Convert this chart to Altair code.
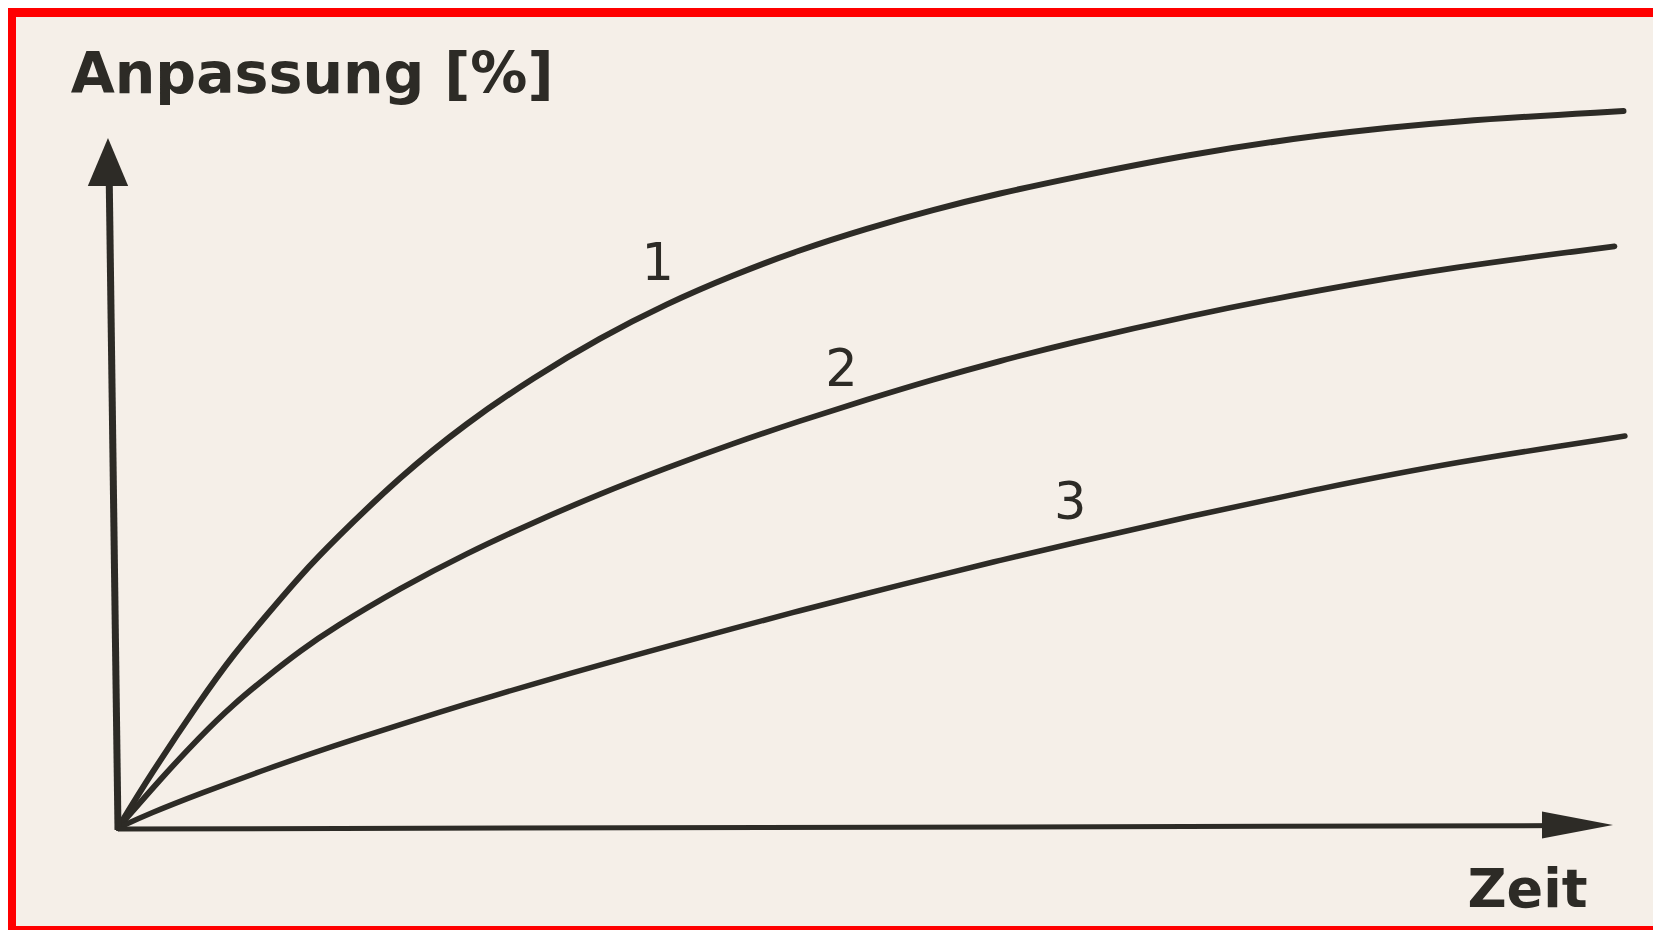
import altair as alt
import pandas as pd

# ---- values (time units 0..100, adaptation in %) ----
t1 = [0, 2.1, 5.5, 7.7, 10.0, 12.2, 14.4, 18.9, 23.3, 27.8, 32.2, 36.7, 41.1, 45.6, 50.1, 54.5,
      59.0, 63.5, 71.5, 80.4, 89.3, 100.7]
p1 = [0, 7.5, 18.5, 25.1, 31.0, 36.6, 41.6, 51.0, 58.7, 65.3, 71.0, 76.0, 80.1, 83.8, 86.9, 89.6,
      92.0, 94.1, 97.6, 100.5, 102.5, 103.9]

t2 = [0, 2.8, 5.5, 7.7, 10.0, 12.2, 14.4, 18.9, 23.3, 27.8, 32.2, 36.7, 41.1, 45.6, 50.1, 54.5,
      59.0, 63.5, 71.5, 80.4, 89.3, 100.1]
p2 = [0, 7.0, 13.3, 17.9, 22.0, 25.7, 29.0, 34.8, 39.8, 44.3, 48.4, 52.2, 55.7, 59.0, 62.1, 65.0,
      67.7, 70.2, 74.2, 78.0, 81.3, 84.3]

t3 = [0, 2.1, 5.5, 10.0, 14.4, 18.9, 23.3, 27.8, 32.2, 36.7, 41.1, 45.6, 50.1, 54.5,
      59.0, 63.5, 71.5, 80.4, 89.3, 100.8]
p3 = [0, 2.1, 5.0, 8.6, 11.9, 15.0, 18.0, 20.9, 23.6, 26.3, 28.9, 31.5, 34.0, 36.4,
      38.8, 41.1, 45.1, 49.2, 53.0, 56.8]

curve_names = ["1", "2", "3"]
label_t = [36.1, 48.4, 63.7]
label_p = [79.4, 64.1, 44.8]

y_title = "Anpassung [%]"
x_title = "Zeit"
axis_end = 100

# ---- tables ----
rows = []
for name, ts, ps in zip(curve_names, [t1, t2, t3], [p1, p2, p3]):
    for i, (t, p) in enumerate(zip(ts, ps)):
        rows.append({"kurve": name, "t": t, "p": p, "i": i})
curves_df = pd.DataFrame(rows)

labels_df = pd.DataFrame({"kurve": curve_names, "t": label_t, "p": label_p})

INK = "#2d2b26"
BG = "#f5efe8"

xs = alt.Scale(domain=[-6.823, 102.676], nice=False, zero=False)
ys = alt.Scale(domain=[-14.203, 117.536], nice=False, zero=False)

X = lambda f: alt.X(f, type="quantitative", scale=xs, axis=None)
Y = lambda f: alt.Y(f, type="quantitative", scale=ys, axis=None)

curves = alt.Chart(curves_df).mark_line(
    interpolate="basis", color=INK, strokeCap="round", strokeJoin="round"
).encode(
    x=X("t"),
    y=Y("p"),
    detail="kurve:N",
    order="i:Q",
    strokeWidth=alt.StrokeWidth(
        "kurve:N",
        scale=alt.Scale(domain=curve_names, range=[6.0, 5.5, 5.0]),
        legend=None,
    ),
)

# axis shafts
y_axis_df = pd.DataFrame({"t": [0.0], "p": [-0.3], "t2": [-0.6], "p2": [axis_end - 4]})
x_axis_df = pd.DataFrame({"t": [0.0], "p": [-0.15], "t2": [axis_end - 3], "p2": [0.35]})

y_shaft = alt.Chart(y_axis_df).mark_rule(color=INK, strokeWidth=7, strokeCap="butt").encode(
    x=X("t"), y=Y("p"), x2="t2:Q", y2="p2:Q"
)
x_shaft = alt.Chart(x_axis_df).mark_rule(color=INK, strokeWidth=5, strokeCap="butt").encode(
    x=X("t"), y=Y("p"), x2="t2:Q", y2="p2:Q"
)

# arrow heads
y_head = alt.Chart(pd.DataFrame({"t": [-0.67], "p": [axis_end]})).mark_point(
    shape="M0,0 L0.42,1 L-0.42,1 Z", size=9216, filled=True, color=INK, opacity=1, strokeWidth=0
).encode(x=X("t"), y=Y("p"))

x_head = alt.Chart(pd.DataFrame({"t": [axis_end], "p": [0.43]})).mark_point(
    shape="M0,0 L-1,-0.19 L-1,0.19 Z", size=20164, filled=True, color=INK, opacity=1, strokeWidth=0
).encode(x=X("t"), y=Y("p"))

# texts
FONT = "DejaVu Sans"
y_title_mark = alt.Chart(pd.DataFrame({"t": [12.98], "p": [106.5], "txt": [y_title]})).mark_text(
    align="center", baseline="alphabetic", font=FONT, fontSize=57, fontWeight="bold", color=INK
).encode(x=X("t"), y=Y("p"), text="txt:N")

x_title_mark = alt.Chart(pd.DataFrame({"t": [94.28], "p": [-11.45], "txt": [x_title]})).mark_text(
    align="center", baseline="alphabetic", font=FONT, fontSize=54, fontWeight="bold", color=INK
).encode(x=X("t"), y=Y("p"), text="txt:N")

curve_labels = alt.Chart(labels_df).mark_text(
    align="center", baseline="alphabetic", font=FONT, fontSize=51, color=INK
).encode(x=X("t"), y=Y("p"), text="kurve:N")

chart = alt.layer(
    curves, y_shaft, x_shaft, y_head, x_head, y_title_mark, x_title_mark, curve_labels
).properties(
    width=1637,
    height=909,
    autosize=alt.AutoSizeParams(type="none"),
    padding={"left": 8, "top": 9, "right": 0, "bottom": 4},
    background="#ff0000",
).configure_view(fill=BG, strokeWidth=0)

chart.save("out.html", embed_options={"renderer": "svg", "actions": False})
